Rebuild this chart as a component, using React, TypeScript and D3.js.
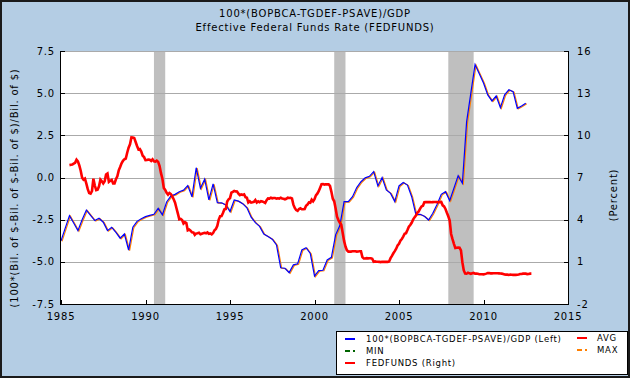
import React, { useEffect } from 'react';
import * as d3 from 'd3';

const W = 630;
const H = 378;

// Quarterly series (left axis), starting 1985 Q1
const ratioStart = 1985;
const ratioValues: number[] = [
  -3.76, -3.0, -2.26, -2.7,
  -3.15, -2.5, -1.93, -2.25,
  -2.55, -2.42, -2.65, -3.15,
  -2.95, -3.25, -3.6, -3.35,
  -4.3, -2.95, -2.6, -2.45,
  -2.32, -2.25, -2.18, -1.83,
  -2.22, -1.45, -1.1, -1.0,
  -0.84, -0.75, -0.48, -1.15,
  0.58, -0.64, -0.1, -1.33,
  -0.38, -1.49, -1.5, -1.63,
  -2.02, -1.33, -1.4, -1.55,
  -1.8, -2.35, -2.68, -2.9,
  -3.35, -3.5, -3.66, -4.0,
  -5.35, -5.38, -5.64, -5.18,
  -5.12, -4.3, -4.16, -4.5,
  -5.85, -5.52, -5.5, -4.89,
  -4.73, -3.4, -2.85, -1.43,
  -1.43, -1.14, -0.6, -0.25,
  -0.02, 0.07, 0.35, -0.5,
  0.0, -0.74, -0.94, -1.43,
  -0.5, -0.3, -0.45, -1.14,
  -2.2, -2.18, -2.3, -2.52,
  -2.12, -1.6, -1.0, -0.84,
  -1.37, -0.64, 0.11, -0.34,
  3.3, 5.0, 6.7, 6.15,
  5.6, 4.9, 4.54, 4.83,
  4.14, 4.9, 5.2, 5.09,
  4.1, 4.24, 4.4,
];

// Monthly FEDFUNDS (right axis), starting July 1985
const fedStart = 1985.5;
const fedfundsValues: number[] = [
  7.88, 7.9, 7.92, 7.99, 8.05, 8.27,
  8.14, 7.86, 7.48, 6.99, 6.85, 6.92, 6.56, 6.17, 5.89, 5.85, 6.04, 6.91,
  6.43, 6.1, 6.13, 6.37, 6.85, 6.73, 6.58, 6.73, 7.22, 7.29, 6.69, 6.77,
  6.83, 6.58, 6.58, 6.87, 7.09, 7.51, 7.75, 8.01, 8.19, 8.3, 8.35, 8.76,
  9.12, 9.36, 9.85, 9.84, 9.81, 9.53, 9.24, 8.99, 9.02, 8.84, 8.55, 8.45,
  8.23, 8.24, 8.28, 8.26, 8.18, 8.29, 8.15, 8.13, 8.2, 8.11, 7.81, 7.31,
  6.91, 6.25, 6.12, 5.91, 5.78, 5.9, 5.82, 5.66, 5.45, 5.21, 4.81, 4.43,
  4.03, 4.06, 3.98, 3.73, 3.82, 3.76, 3.25, 3.3, 3.22, 3.1, 3.09, 2.92,
  3.02, 3.03, 3.07, 2.96, 3.0, 3.04, 3.06, 3.03, 3.09, 2.99, 3.02, 2.96,
  3.05, 3.25, 3.34, 3.56, 4.01, 4.25, 4.26, 4.47, 4.73, 4.76, 5.29, 5.45,
  5.53, 5.92, 5.98, 6.05, 6.01, 6.0, 5.85, 5.74, 5.8, 5.76, 5.8, 5.6,
  5.56, 5.22, 5.31, 5.22, 5.24, 5.27, 5.4, 5.22, 5.3, 5.24, 5.31, 5.29,
  5.25, 5.19, 5.39, 5.51, 5.5, 5.56, 5.52, 5.54, 5.54, 5.5, 5.52, 5.5,
  5.56, 5.51, 5.49, 5.45, 5.49, 5.56, 5.54, 5.55, 5.51, 5.07, 4.83, 4.68,
  4.63, 4.76, 4.81, 4.74, 4.74, 4.76, 4.99, 5.07, 5.22, 5.2, 5.42, 5.3,
  5.45, 5.73, 5.85, 6.02, 6.27, 6.53, 6.54, 6.5, 6.52, 6.51, 6.51, 6.4,
  5.98, 5.49, 5.31, 4.8, 4.21, 3.97, 3.77, 3.65, 3.07, 2.49, 2.09, 1.82,
  1.73, 1.74, 1.73, 1.75, 1.75, 1.75, 1.73, 1.74, 1.75, 1.75, 1.34, 1.24,
  1.24, 1.26, 1.25, 1.26, 1.26, 1.22, 1.01, 1.03, 1.01, 1.01, 1.0, 0.98,
  1.0, 1.01, 1.0, 1.0, 1.0, 1.03, 1.26, 1.43, 1.61, 1.76, 1.93, 2.16,
  2.28, 2.5, 2.63, 2.79, 3.0, 3.04, 3.26, 3.5, 3.62, 3.78, 4.0, 4.16,
  4.29, 4.49, 4.59, 4.79, 4.94, 4.99, 5.24, 5.25, 5.25, 5.25, 5.25, 5.24,
  5.25, 5.26, 5.26, 5.25, 5.25, 5.25, 5.26, 5.02, 4.94, 4.76, 4.49, 4.24,
  3.94, 2.98, 2.61, 2.28, 1.98, 2.0, 2.01, 2.0, 1.81, 0.97, 0.39, 0.16,
  0.15, 0.22, 0.18, 0.15, 0.18, 0.21, 0.16, 0.16, 0.15, 0.12, 0.12, 0.12,
  0.11, 0.13, 0.16, 0.2, 0.2, 0.18, 0.18, 0.19, 0.19, 0.19, 0.19, 0.18,
  0.17, 0.16, 0.14, 0.1, 0.09, 0.09, 0.07, 0.1, 0.08, 0.07, 0.08, 0.07,
  0.08, 0.1, 0.13, 0.14, 0.16, 0.16, 0.16, 0.13, 0.14, 0.16, 0.16,
];

const recessionStarts = [1990.5, 2001.167, 2007.917];
const recessionEnds = [1991.167, 2001.833, 2009.417];

const leftTicks = [-7.5, -5, -2.5, 0, 2.5, 5, 7.5];
const leftTickLabels = ['-7.5', '-5.0', '-2.5', '0.0', '2.5', '5.0', '7.5'];
const rightTicks = [-2, 1, 4, 7, 10, 13, 16];
const yearTicks = [1985, 1990, 1995, 2000, 2005, 2010, 2015];

const titleLines = ['100*(BOPBCA-TGDEF-PSAVE)/GDP', 'Effective Federal Funds Rate (FEDFUNDS)'];
const leftAxisTitle = '(100*(Bil. of $-Bil. of $-Bil. of $)/Bil. of $)';
const rightAxisTitle = '(Percent)';

const FONT = '"DejaVu Sans", Verdana, sans-serif';

export default function App() {
  useEffect(() => {
    document.body.style.margin = '0';
  }, []);

  const L = 61, R = 568, T = 51, B = 304;
  const x = d3.scaleLinear().domain([1985, 2015]).range([L, R]);
  const yL = d3.scaleLinear().domain([-7.5, 7.5]).range([B, T]);
  const yR = d3.scaleLinear().domain([-2, 16]).range([B, T]);

  const ratioData = ratioValues.map((v, i) => [ratioStart + i * 0.25, v] as [number, number]);
  const fedData = fedfundsValues.map((v, i) => [fedStart + i / 12, v] as [number, number]);

  const lineL = d3.line<[number, number]>().x(d => x(d[0])).y(d => yL(d[1]));
  const lineR = d3.line<[number, number]>().x(d => x(d[0])).y(d => yR(d[1]));

  const px = (v: number) => Math.round(v) + 0.5;
  const ls = 0.8;

  return (
    <svg width={W} height={H} style={{ position: 'absolute', left: 0, top: 0, display: 'block' }}
      fontFamily={FONT}>
      <rect x={0} y={0} width={W} height={H} fill="#b4cde4" />
      <rect x={1} y={1} width={W - 2} height={H - 2} fill="none" stroke="#1a1a1a" strokeWidth={2} />

      {titleLines.map((t, i) => (
        <text key={i} x={W / 2} y={17 + i * 14} textAnchor="middle" fontSize={10} letterSpacing={ls} fill="#000">{t}</text>
      ))}

      <rect x={L} y={T} width={R - L} height={B - T} fill="#ffffff" />

      {recessionStarts.map((s, i) => (
        <rect key={i} x={x(s)} y={T} width={x(recessionEnds[i]) - x(s)} height={B - T} fill="#bfbfbf" />
      ))}

      {leftTicks.map((t, i) => (
        <line key={i} x1={L} x2={R} y1={px(yL(t))} y2={px(yL(t))} stroke="#aaaaaa" strokeWidth={1} />
      ))}

      <g clipPath="url(#plotclip)">
        <path d={lineL(ratioData) || ''} fill="none" stroke="#ff7f00" strokeWidth={1.2} transform="translate(1,0.5)" />
        <path d={lineL(ratioData) || ''} fill="none" stroke="#0000ff" strokeWidth={1.2} />
        <path d={lineR(fedData) || ''} fill="none" stroke="#ff0000" strokeWidth={2.6} />
      </g>
      <defs>
        <clipPath id="plotclip"><rect x={L} y={T - 2} width={R - L} height={B - T + 4} /></clipPath>
      </defs>

      {/* axes */}
      <line x1={px(L) - 1} x2={px(L) - 1} y1={T} y2={B + 1} stroke="#000" strokeWidth={1} />
      <line x1={px(R)} x2={px(R)} y1={T} y2={B + 1} stroke="#000" strokeWidth={1} />
      <line x1={L} x2={R + 1} y1={px(B)} y2={px(B)} stroke="#000" strokeWidth={1} />

      {leftTicks.map((t, i) => (
        <g key={i}>
          <line x1={L} x2={L + 4} y1={px(yL(t))} y2={px(yL(t))} stroke="#000" />
          <text x={55} y={yL(t)} dy="0.36em" textAnchor="end" fontSize={10} letterSpacing={ls} fill="#000">{leftTickLabels[i]}</text>
        </g>
      ))}
      {rightTicks.map((t, i) => (
        <g key={i}>
          <line x1={R - 4} x2={R} y1={px(yR(t))} y2={px(yR(t))} stroke="#000" />
          <text x={577} y={yR(t)} dy="0.36em" textAnchor="start" fontSize={10} letterSpacing={ls} fill="#000">{t}</text>
        </g>
      ))}
      {yearTicks.map((t, i) => (
        <g key={i}>
          <line x1={px(x(t))} x2={px(x(t))} y1={B} y2={B - 4} stroke="#000" />
          <text x={x(t)} y={320} textAnchor="middle" fontSize={10} letterSpacing={ls} fill="#000">{t}</text>
        </g>
      ))}

      <text transform={`translate(18,188) rotate(-90)`} textAnchor="middle" fontSize={10} letterSpacing={ls} fill="#000">{leftAxisTitle}</text>
      <text transform={`translate(617,195) rotate(-90)`} textAnchor="middle" fontSize={10} letterSpacing={ls} fill="#000">{rightAxisTitle}</text>

      {/* legend */}
      <rect x={336.5} y={331.5} width={291} height={43} fill="#ffffff" stroke="#000" strokeWidth={1} />
      <line x1={345} x2={355} y1={339} y2={339} stroke="#0000ff" strokeWidth={2} />
      <text x={366} y={339} dy="0.36em" fontSize={8.5} letterSpacing={0.75} fill="#000">100*(BOPBCA-TGDEF-PSAVE)/GDP (Left)</text>
      <line x1={345} x2={355} y1={351} y2={351} stroke="#006400" strokeWidth={2} strokeDasharray="5,3,2,3" />
      <text x={366} y={351} dy="0.36em" fontSize={8.5} letterSpacing={0.75} fill="#000">MIN</text>
      <line x1={345} x2={355} y1={363} y2={363} stroke="#ff0000" strokeWidth={2} />
      <text x={366} y={363} dy="0.36em" fontSize={8.5} letterSpacing={0.75} fill="#000">FEDFUNDS (Right)</text>
      <line x1={577} x2={587} y1={338} y2={338} stroke="#ff0000" strokeWidth={2} />
      <text x={597} y={338} dy="0.36em" fontSize={8.5} letterSpacing={0.75} fill="#000">AVG</text>
      <line x1={577} x2={587} y1={350} y2={350} stroke="#ff7f00" strokeWidth={2} strokeDasharray="5,3,2,3" />
      <text x={597} y={350} dy="0.36em" fontSize={8.5} letterSpacing={0.75} fill="#000">MAX</text>
    </svg>
  );
}
